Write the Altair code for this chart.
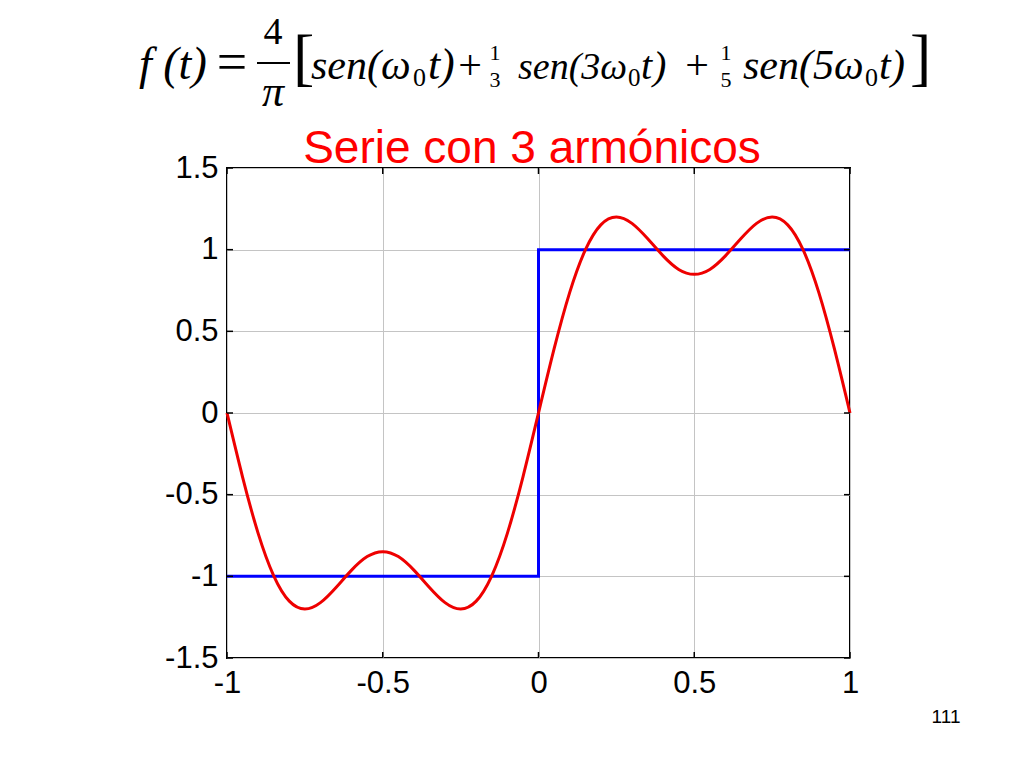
import altair as alt
import pandas as pd

# ---- data ----
t_red = [-1.00, -0.95, -0.90, -0.85, -0.80, -0.75, -0.70, -0.65, -0.60, -0.55,
         -0.50, -0.45, -0.40, -0.35, -0.30, -0.25, -0.20, -0.15, -0.10, -0.05,
         0.00, 0.05, 0.10, 0.15, 0.20, 0.25, 0.30, 0.35, 0.40, 0.45,
         0.50, 0.55, 0.60, 0.65, 0.70, 0.75, 0.80, 0.85, 0.90, 0.95, 1.00]
v_red = [0.0, -0.392, -0.737, -0.997, -1.152, -1.200, -1.161, -1.068, -0.962, -0.879,
         -0.849, -0.879, -0.962, -1.068, -1.161, -1.200, -1.152, -0.997, -0.737, -0.392,
         0.0, 0.392, 0.737, 0.997, 1.152, 1.200, 1.161, 1.068, 0.962, 0.879,
         0.849, 0.879, 0.962, 1.068, 1.161, 1.200, 1.152, 0.997, 0.737, 0.392, 0.0]

t_blue = [-1.0, 0.0, 0.0, 1.0]
v_blue = [-1.0, -1.0, 1.0, 1.0]
o_blue = [0, 1, 2, 3]

x_ticks = [-1, -0.5, 0, 0.5, 1]
y_ticks = [-1.5, -1, -0.5, 0, 0.5, 1, 1.5]

W, H = 623, 490

red_df = pd.DataFrame({"t": t_red, "v": v_red})
blue_df = pd.DataFrame({"t": t_blue, "v": v_blue, "o": o_blue})
xt_df = pd.DataFrame({"t": x_ticks})
yt_df = pd.DataFrame({"v": y_ticks})
one = pd.DataFrame({"a": [0]})

xscale = alt.Scale(domain=[-1, 1], nice=False, zero=False)
yscale = alt.Scale(domain=[-1.5, 1.5], nice=False, zero=False)

xaxis = alt.Axis(values=x_ticks, grid=True, gridColor="#c4c4c4", gridWidth=1,
                 domain=False, ticks=False, labelFontSize=31, labelFont="Liberation Sans",
                 labelColor="black", labelPadding=10, labelExpr="toString(datum.value)",
                 title=None, labelFlush=False)
yaxis = alt.Axis(values=y_ticks, grid=True, gridColor="#c4c4c4", gridWidth=1,
                 domain=False, ticks=False, labelFontSize=31, labelFont="Liberation Sans",
                 labelColor="black", labelPadding=9, labelExpr="toString(datum.value)",
                 title=None, labelFlush=False)

blue = alt.Chart(blue_df).mark_line(color="#0000ff", strokeWidth=3).encode(
    x=alt.X("t:Q", scale=xscale, axis=xaxis),
    y=alt.Y("v:Q", scale=yscale, axis=yaxis),
    order="o:Q",
)
red = alt.Chart(red_df).mark_line(color="#ee0000", strokeWidth=3, interpolate="natural").encode(
    x=alt.X("t:Q", scale=xscale),
    y=alt.Y("v:Q", scale=yscale),
)

tk = dict(color="black", strokeWidth=1.5)
ticks_b = alt.Chart(xt_df).mark_rule(**tk).encode(x=alt.X("t:Q", scale=xscale), y=alt.value(H), y2=alt.value(H - 6))
ticks_t = alt.Chart(xt_df).mark_rule(**tk).encode(x=alt.X("t:Q", scale=xscale), y=alt.value(0), y2=alt.value(6))
ticks_l = alt.Chart(yt_df).mark_rule(**tk).encode(y=alt.Y("v:Q", scale=yscale), x=alt.value(0), x2=alt.value(6))
ticks_r = alt.Chart(yt_df).mark_rule(**tk).encode(y=alt.Y("v:Q", scale=yscale), x=alt.value(W), x2=alt.value(W - 6))


def txt(s, x, y, size, italic=False, align="left", color="black", font="Liberation Serif"):
    return alt.Chart(one).mark_text(
        text=s, align=align, baseline="alphabetic", fontSize=size, font=font,
        fontStyle="italic" if italic else "normal", color=color,
    ).encode(x=alt.value(x), y=alt.value(y))


ox, oy = 227, 168  # page position of plot origin
def P(x, y):
    return x - ox, y - oy

texts = []
def add(s, px, py, size, italic=False, align="left", color="black", font="Liberation Serif"):
    x, y = P(px, py)
    texts.append(txt(s, x, y, size, italic, align, color, font))

# formula
add("f (t)", 139, 79, 46, italic=True)
add("=", 232, 80, 54, align="center")
add("4", 273, 44, 38, align="center")
add("π", 273, 106, 44, italic=True, align="center")
add("[", 293, 78, 64)
# term 1
add("sen(ω", 311, 79, 42, italic=True)
add("0", 413, 86, 26)
add("t", 428, 79, 44, italic=True)
add(")", 440, 79, 44, italic=True)
add("+", 470, 79, 42, align="center")
add("1", 495, 60, 22, align="center")
add("3", 495, 87, 22, align="center")
# term 2
add("sen(3ω", 518, 79, 38, italic=True)
add("0", 628, 86, 25)
add("t", 641, 79, 40, italic=True)
add(")", 653, 79, 40, italic=True)
add("+", 697, 79, 42, align="center")
add("1", 726, 60, 22, align="center")
add("5", 726, 87, 22, align="center")
# term 3
add("sen(5ω", 743, 79, 42, italic=True)
add("0", 865, 86, 26)
add("t", 879, 79, 42, italic=True)
add(")", 891, 79, 42, italic=True)
add("]", 910, 78, 64)
# title
add("Serie con 3 armónicos", 532, 163, 46, align="center", color="#ff0000", font="Liberation Sans")
# page number
add("111", 946, 723, 19, align="center", font="Liberation Sans")

bx0, by = P(257, 63)
bx1, _ = P(290, 63)
bar = alt.Chart(one).mark_rule(color="black", strokeWidth=2).encode(
    x=alt.value(bx0), x2=alt.value(bx1), y=alt.value(by))

chart = alt.layer(blue, red, ticks_b, ticks_t, ticks_l, ticks_r, bar, *texts).properties(
    width=W, height=H,
    padding={"left": 219, "top": 160, "right": 166, "bottom": 100},
    autosize=alt.AutoSizeParams(type="none"),
).configure_view(stroke="black", strokeWidth=2)

chart.save("out.html", embed_options={"renderer": "svg", "actions": False})
